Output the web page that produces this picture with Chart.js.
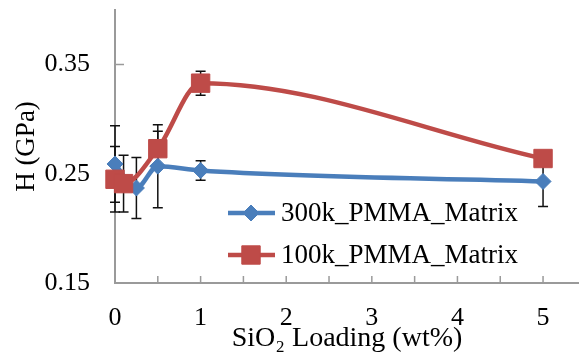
<!DOCTYPE html>
<html>
<head>
<meta charset="utf-8">
<script src="https://cdn.jsdelivr.net/npm/chart.js@4.4.1/dist/chart.umd.min.js"></script>
<style>
  html, body { margin: 0; padding: 0; background: #fff; }
  #wrap { width: 579px; height: 358px; }
</style>
</head>
<body>
<div id="wrap"><canvas id="hardness"></canvas></div>
<script>
// 300k PMMA matrix: SiO2 loading (wt%), hardness (GPa), error bar half-width
const loading300k = [0, 0.25, 0.5, 1, 5];
const hardness300k = [0.259, 0.237, 0.257, 0.253, 0.243];
const error300k = [0.035, 0.028, 0.038, 0.009, 0.023];

// 100k PMMA matrix
const loading100k = [0, 0.1, 0.5, 1, 5];
const hardness100k = [0.245, 0.241, 0.273, 0.333, 0.264];
const error100k = [0.03, 0.026, 0.016, 0.011, 0.004];

const seriesNames = ["300k_PMMA_Matrix", "100k_PMMA_Matrix"];
const xTickLabels = [0, 1, 2, 3, 4, 5];
const xTickMarks = [0.5, 1, 1.5, 2, 2.5, 3, 3.5, 4, 4.5, 5];
const yTickLabels = [0.15, 0.25, 0.35];

const AXIS_GRAY = "#9a9a9a";
const SERIF = "'Liberation Serif', 'Times New Roman', serif";

const toPoints = (xs, ys) => xs.map((x, i) => ({ x: x, y: ys[i] }));

// error bars go under the markers
const errorBars = {
  id: "errorBars",
  beforeDatasetsDraw(chart) {
    const ctx = chart.ctx;
    const xs = chart.scales.x;
    const ys = chart.scales.y;
    ctx.save();
    ctx.strokeStyle = "#111";
    ctx.lineWidth = 1.5;
    chart.data.datasets.forEach((ds) => {
      ds.data.forEach((p, i) => {
        const e = ds.errors[i];
        const px = xs.getPixelForValue(p.x);
        const top = ys.getPixelForValue(p.y + e);
        const bot = ys.getPixelForValue(p.y - e);
        ctx.beginPath();
        ctx.moveTo(px, top);
        ctx.lineTo(px, bot);
        ctx.moveTo(px - 5, top);
        ctx.lineTo(px + 5, top);
        ctx.moveTo(px - 5, bot);
        ctx.lineTo(px + 5, bot);
        ctx.stroke();
      });
    });
    ctx.restore();
  },
};

// small inside tick marks on both axes
const insideTicks = {
  id: "insideTicks",
  beforeDatasetsDraw(chart) {
    const ctx = chart.ctx;
    const xs = chart.scales.x;
    const ys = chart.scales.y;
    const area = chart.chartArea;
    ctx.save();
    ctx.strokeStyle = AXIS_GRAY;
    ctx.lineWidth = 1.5;
    ctx.beginPath();
    xTickMarks.forEach((v) => {
      const px = xs.getPixelForValue(v);
      ctx.moveTo(px, area.bottom);
      ctx.lineTo(px, area.bottom - 7);
    });
    yTickLabels.forEach((v) => {
      const py = ys.getPixelForValue(v);
      ctx.moveTo(area.left, py);
      ctx.lineTo(area.left + 9, py);
    });
    ctx.stroke();
    ctx.restore();
  },
};

// legend sits inside the plot, lower right
const innerLegend = {
  id: "innerLegend",
  afterDraw(chart) {
    const ctx = chart.ctx;
    const rows = [213, 255];
    ctx.save();
    chart.data.datasets.forEach((ds, i) => {
      const y = rows[i];
      ctx.strokeStyle = ds.borderColor;
      ctx.lineWidth = ds.borderWidth;
      ctx.beginPath();
      ctx.moveTo(228, y);
      ctx.lineTo(275, y);
      ctx.stroke();
      ctx.fillStyle = ds.backgroundColor;
      ctx.strokeStyle = ds.backgroundColor;
      ctx.lineWidth = 1;
      Chart.helpers.drawPoint(ctx, { pointStyle: ds.pointStyle, radius: ds.pointRadius, borderWidth: 1 }, 251, y);
      ctx.fillStyle = "#000";
      ctx.font = "27px " + SERIF;
      ctx.textBaseline = "middle";
      ctx.textAlign = "left";
      ctx.fillText(ds.label, 281, y + 1);
    });
    ctx.restore();
  },
};

new Chart(document.getElementById("hardness"), {
  type: "line",
  data: {
    datasets: [
      {
        label: seriesNames[0],
        data: toPoints(loading300k, hardness300k),
        errors: error300k,
        borderColor: "#4A7EBB",
        backgroundColor: "#4A7EBB",
        borderWidth: 4.5,
        pointStyle: "rectRot",
        pointRadius: 8,
        pointBorderWidth: 1,
        cubicInterpolationMode: "monotone",
        clip: false,
        order: 1,
      },
      {
        label: seriesNames[1],
        data: toPoints(loading100k, hardness100k),
        errors: error100k,
        borderColor: "#BE4B48",
        backgroundColor: "#BE4B48",
        borderWidth: 4.5,
        pointStyle: "rect",
        pointRadius: 13,
        pointBorderWidth: 1,
        cubicInterpolationMode: "monotone",
        clip: false,
        order: 0,
      },
    ],
  },
  options: {
    responsive: true,
    maintainAspectRatio: false,
    animation: false,
    layout: { autoPadding: false, padding: { top: 10, right: 0, left: 0, bottom: 0 } },
    plugins: {
      legend: { display: false },
      tooltip: { enabled: false },
    },
    scales: {
      x: {
        type: "linear",
        min: 0,
        max: 5.42,
        afterBuildTicks: (scale) => {
          scale.ticks = xTickLabels.map((v) => ({ value: v }));
        },
        afterFit: (scale) => {
          scale.height = 75;
          scale.paddingLeft = 0;
          scale.paddingRight = 0;
        },
        grid: { display: false, drawTicks: false },
        border: { display: true, color: AXIS_GRAY, width: 2 },
        ticks: {
          color: "#000",
          padding: 20,
          maxRotation: 0,
          font: { family: SERIF, size: 26 },
        },
        title: {
          display: true,
          text: "SiO₂ Loading (wt%)",
          color: "#000",
          font: { family: SERIF, size: 28 },
          padding: { top: 0, bottom: 3 },
        },
      },
      y: {
        min: 0.15,
        max: 0.4,
        afterBuildTicks: (scale) => {
          scale.ticks = yTickLabels.map((v) => ({ value: v }));
        },
        afterFit: (scale) => {
          scale.width = 115;
          scale.paddingTop = 0;
          scale.paddingBottom = 0;
        },
        grid: { display: false, drawTicks: false },
        border: { display: true, color: AXIS_GRAY, width: 2 },
        ticks: {
          color: "#000",
          padding: 25,
          font: { family: SERIF, size: 26 },
          callback: (v) => Number(v).toFixed(2),
        },
        title: {
          display: true,
          text: "H (GPa)",
          color: "#000",
          font: { family: SERIF, size: 27 },
          padding: { top: 11, bottom: 0 },
        },
      },
    },
  },
  plugins: [errorBars, insideTicks, innerLegend],
});
</script>
</body>
</html>
